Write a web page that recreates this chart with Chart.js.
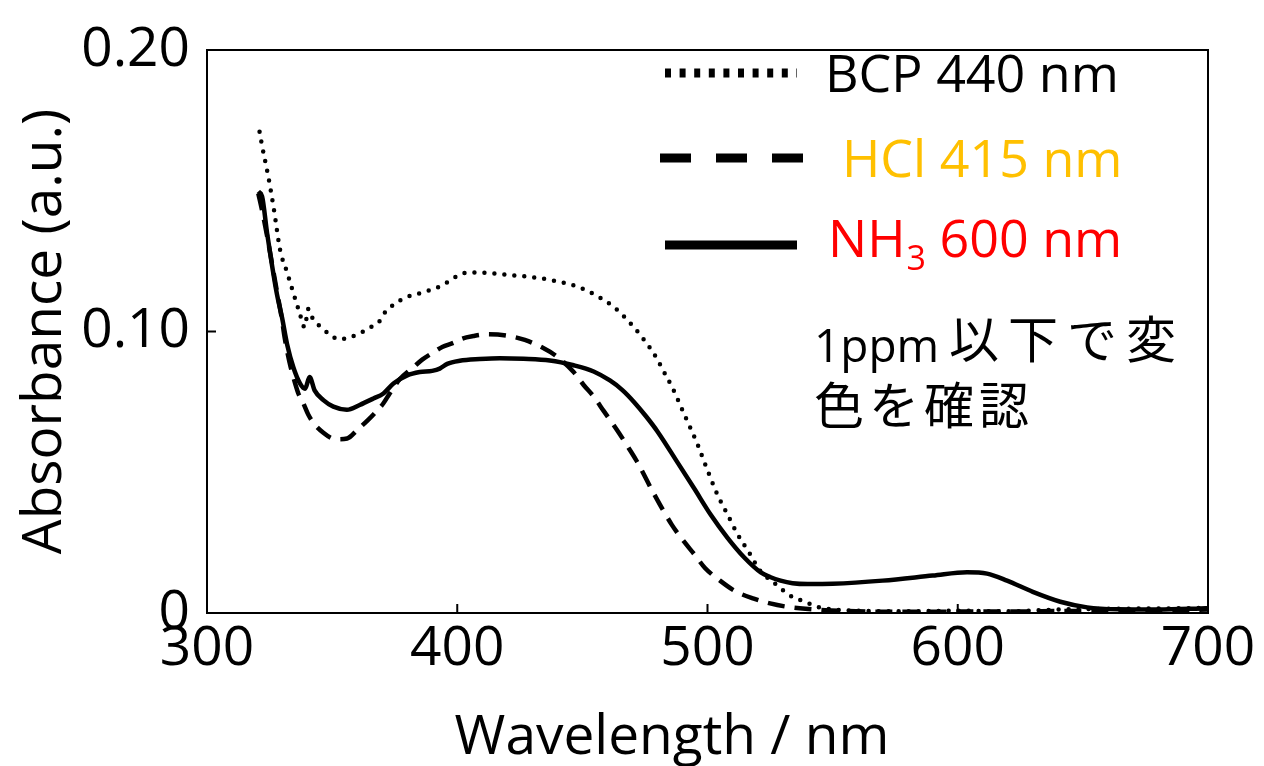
<!DOCTYPE html>
<html>
<head>
<meta charset="utf-8">
<script src="https://cdn.jsdelivr.net/npm/chart.js@4.4.1/dist/chart.umd.min.js"></script>
<style>
  html, body { margin: 0; padding: 0; background: #fff; }
</style>
</head>
<body>
<canvas id="spectra" width="1264" height="766"></canvas>
<script>
// wavelengths (nm) and absorbance
const bcpWl = [321, 322, 324.5, 326.8, 329.2, 332, 334.4, 337, 339, 340.5, 342, 345.5, 349, 352.8, 357, 361, 365, 368.8, 370.4, 373.5, 377, 381, 385, 389, 393, 397, 400.5, 405, 412, 418, 430, 439, 447.7, 455.7, 463, 469, 474.5, 479, 483, 486, 491, 496, 499, 504, 508, 512, 516.7, 521, 524, 527, 531, 534, 539, 543.7, 550, 560, 580, 600, 620, 640, 660, 680, 700];
const bcpAbs = [0.171, 0.166, 0.155, 0.143, 0.129, 0.121, 0.114, 0.1066, 0.1015, 0.108, 0.105, 0.1015, 0.099, 0.0972, 0.098, 0.0993, 0.1014, 0.1035, 0.106, 0.1088, 0.111, 0.1126, 0.1136, 0.1147, 0.116, 0.118, 0.120, 0.121, 0.1208, 0.1203, 0.1193, 0.118, 0.116, 0.1127, 0.1084, 0.1031, 0.0972, 0.0915, 0.085, 0.080, 0.070, 0.060, 0.053, 0.042, 0.035, 0.028, 0.0214, 0.015, 0.0125, 0.0104, 0.0075, 0.0057, 0.004, 0.0022, 0.0013, 0.0008, 0.0006, 0.0008, 0.0006, 0.0012, 0.0015, 0.0016, 0.0018];

const hclWl = [320.5, 322, 324, 326, 328, 330, 331, 333, 334.5, 336.5, 338.5, 340.5, 343, 346.5, 350, 352, 356, 360, 364.5, 367, 370.5, 373, 377, 382.5, 386, 390.5, 394, 398.5, 402, 406.5, 412, 420, 427, 434, 440, 446.5, 450.5, 454.5, 458.5, 463.7, 467.5, 471.7, 478.5, 485.7, 490.5, 494.7, 499, 505, 511, 518.5, 525, 532, 547, 560, 580, 600, 620, 640, 660, 680, 700];
const hclAbs = [0.149, 0.143, 0.134, 0.124, 0.114, 0.104, 0.098, 0.089, 0.0838, 0.078, 0.0745, 0.0704, 0.067, 0.064, 0.062, 0.0617, 0.062, 0.065, 0.0687, 0.071, 0.0745, 0.078, 0.083, 0.0873, 0.090, 0.0926, 0.0945, 0.096, 0.0975, 0.0984, 0.099, 0.0985, 0.097, 0.0943, 0.091, 0.0856, 0.081, 0.0769, 0.0718, 0.0652, 0.060, 0.054, 0.0425, 0.0314, 0.0255, 0.0209, 0.016, 0.0115, 0.0078, 0.0051, 0.0034, 0.0022, 0.001, 0.0006, 0.0004, 0.0005, 0.0005, 0.0007, 0.0008, 0.0009, 0.0012];

const nh3Wl = [320.5, 322, 324, 326, 328, 330, 332, 334.5, 337.2, 339.2, 341, 343, 346.5, 350.5, 355.9, 361, 366.5, 370.5, 374.5, 380, 385, 390, 393, 396, 401, 409, 417, 426.5, 437, 446.5, 454.5, 461, 466, 470.7, 475.5, 480, 488, 494.7, 501.3, 508, 514.7, 521.3, 525, 529.2, 534, 540, 550, 570, 590, 603.7, 611.7, 619.7, 630, 641, 651.7, 663.7, 680, 697, 700];
const nh3Abs = [0.1497, 0.148, 0.135, 0.1234, 0.113, 0.1049, 0.0955, 0.0873, 0.0815, 0.0797, 0.0838, 0.0791, 0.0756, 0.0733, 0.0722, 0.0739, 0.0762, 0.078, 0.0815, 0.0844, 0.0856, 0.086, 0.0868, 0.0885, 0.0896, 0.0902, 0.0905, 0.0903, 0.0897, 0.088, 0.0858, 0.0826, 0.0792, 0.0749, 0.0698, 0.0645, 0.0535, 0.0442, 0.0349, 0.0267, 0.0197, 0.0144, 0.0128, 0.0115, 0.0106, 0.0103, 0.0104, 0.0115, 0.0133, 0.0145, 0.014, 0.0115, 0.0075, 0.004, 0.002, 0.0013, 0.0012, 0.0016, 0.0017];

const xTicks = [300, 400, 500, 600, 700];
const yTicks = ['0', '0.10', '0.20'];

const toPoints = (wl, abs) => wl.map((w, i) => ({ x: w, y: abs[i] }));

const latin = "'Open Sans', 'Noto Sans CJK JP', sans-serif";
const cjk = "'Noto Sans CJK JP', sans-serif";

// box around the plot with inward tick marks
const frame = {
  id: 'frame',
  beforeDatasetsDraw(chart) {
    const { ctx, chartArea: a, scales: { x, y } } = chart;
    ctx.save();
    ctx.strokeStyle = '#000';
    ctx.lineWidth = 2;
    ctx.strokeRect(a.left, a.top, a.right - a.left, a.bottom - a.top);
    ctx.beginPath();
    x.ticks.forEach(t => {
      const px = x.getPixelForValue(t.value);
      ctx.moveTo(px, a.bottom);
      ctx.lineTo(px, a.bottom - 9);
    });
    y.ticks.forEach(t => {
      const py = y.getPixelForValue(t.value);
      ctx.moveTo(a.left, py);
      ctx.lineTo(a.left + 9, py);
    });
    ctx.stroke();
    ctx.restore();
  }
};

// x title, legend with subscript, and the note
const keyAndNote = {
  id: 'keyAndNote',
  afterDraw(chart) {
    const ctx = chart.ctx;
    ctx.save();
    ctx.strokeStyle = '#000';

    ctx.fillStyle = '#000000';
    ctx.font = '55px ' + latin;
    ctx.textAlign = 'center';
    ctx.textBaseline = 'middle';
    ctx.fillText('Wavelength / nm', 672, 738);

    const sample = (x1, x2, y, w, dash) => {
      ctx.beginPath();
      ctx.lineWidth = w;
      ctx.lineCap = 'butt';
      ctx.setLineDash(dash);
      ctx.moveTo(x1, y);
      ctx.lineTo(x2, y);
      ctx.stroke();
    };
    sample(665, 797, 73, 9, [6, 8.6]);
    sample(660, 804, 158, 9, [31, 25]);
    sample(665, 797, 245, 9, []);
    ctx.setLineDash([]);

    ctx.textBaseline = 'alphabetic';
    ctx.textAlign = 'left';
    ctx.font = '52px ' + latin;
    ctx.fillText('BCP 440 nm', 825, 92);
    ctx.fillStyle = '#FFC000';
    ctx.fillText('HCl 415 nm', 842, 177);
    ctx.fillStyle = '#FF0000';
    ctx.fillText('NH', 828, 257);
    let nx = 828 + ctx.measureText('NH').width;
    ctx.font = '34px ' + latin;
    ctx.fillText('3', nx + 1, 270);
    nx += ctx.measureText('3').width + 1;
    ctx.font = '52px ' + latin;
    ctx.fillText(' 600 nm', nx, 257);

    ctx.fillStyle = '#000000';
    ctx.font = '46px ' + latin;
    ctx.fillText('1ppm', 814, 362);
    ctx.font = '50px ' + cjk;
    ctx.letterSpacing = '9px';
    ctx.fillText('以下で変', 949, 358);
    ctx.letterSpacing = '5px';
    ctx.fillText('色を確認', 814, 424);
    ctx.letterSpacing = '0px';
    ctx.restore();
  }
};

new Chart(document.getElementById('spectra'), {
  type: 'line',
  data: {
    datasets: [
      {
        label: 'BCP 440 nm',
        data: toPoints(bcpWl, bcpAbs),
        borderColor: '#000',
        borderWidth: 4.5,
        borderDash: [0, 10],
        borderCapStyle: 'round',
      },
      {
        label: 'HCl 415 nm',
        data: toPoints(hclWl, hclAbs),
        borderColor: '#000',
        borderWidth: 4.5,
        borderDash: [17, 10],
      },
      {
        label: 'NH3 600 nm',
        data: toPoints(nh3Wl, nh3Abs),
        borderColor: '#000',
        borderWidth: 4.5,
      },
    ],
  },
  options: {
    responsive: false,
    animation: false,
    layout: { padding: { top: 40, right: 56, left: 0, bottom: 0 } },
    elements: {
      point: { radius: 0 },
      line: { cubicInterpolationMode: 'monotone', fill: false },
    },
    plugins: {
      legend: { display: false },
      tooltip: { enabled: false },
    },
    scales: {
      x: {
        type: 'linear',
        min: 300,
        max: 700,
        afterFit: s => { s.height = 153; },
        afterBuildTicks: s => { s.ticks = xTicks.map(v => ({ value: v })); },
        grid: { display: false, drawTicks: false },
        border: { display: false },
        ticks: {
          padding: 3,
          color: '#000',
          font: { size: 55, family: latin },
          maxRotation: 0,
        },
        title: { display: false },
      },
      y: {
        type: 'linear',
        min: 0,
        max: 0.2,
        afterFit: s => { s.width = 207; },
        afterBuildTicks: s => { s.ticks = yTicks.map(v => ({ value: parseFloat(v) })); },
        grid: { display: false, drawTicks: false },
        border: { display: false },
        ticks: {
          padding: 17,
          color: '#000',
          font: { size: 55, family: latin },
          callback: (v, i) => yTicks[i],
        },
        title: {
          display: true,
          text: 'Absorbance (a.u.)',
          color: '#000',
          font: { size: 55, family: latin },
          padding: { top: 12, bottom: 0 },
        },
      },
    },
  },
  plugins: [frame, keyAndNote],
});
</script>
</body>
</html>
